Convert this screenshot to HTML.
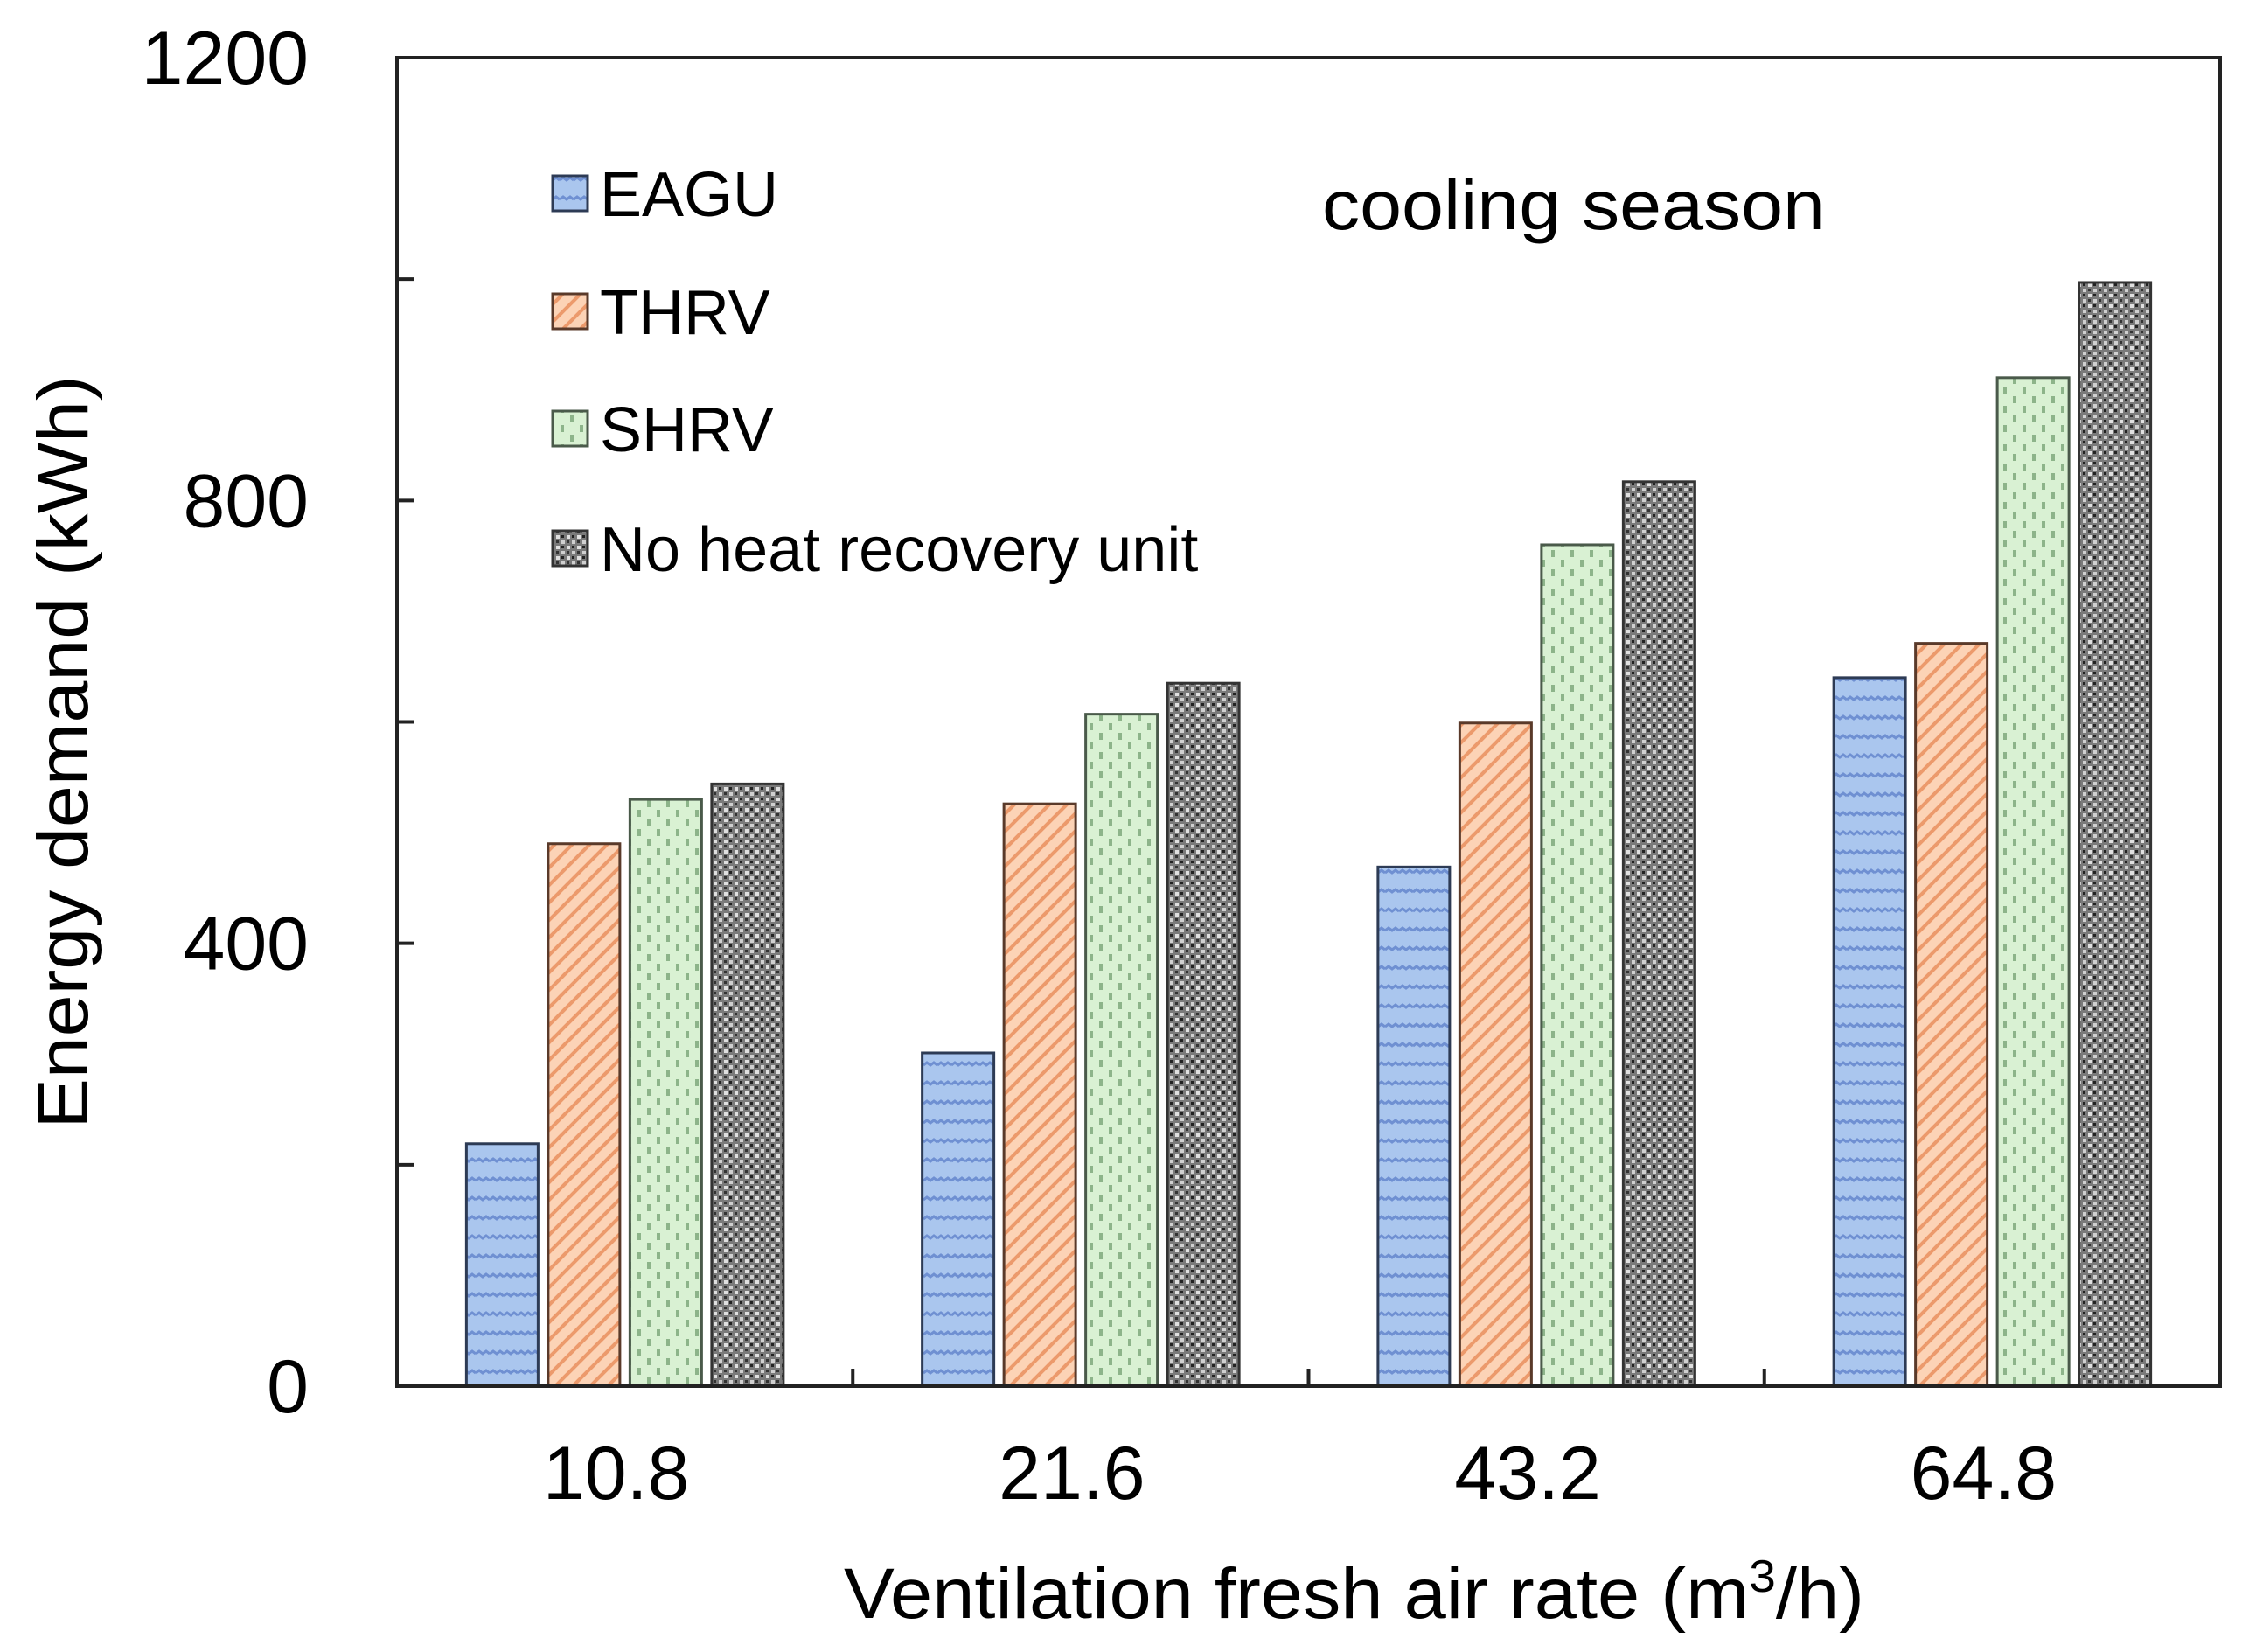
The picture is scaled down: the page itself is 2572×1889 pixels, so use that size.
<!DOCTYPE html>
<html><head><meta charset="utf-8"><style>
html,body{margin:0;padding:0;background:#fff;}
svg{display:block;font-family:"Liberation Sans",Arial,sans-serif;}
</style></head><body>
<svg id="chart" width="2572" height="1889" viewBox="0 0 2572 1889" xmlns="http://www.w3.org/2000/svg">
<defs>
<pattern id="pBlue" patternUnits="userSpaceOnUse" width="16" height="22">
<rect width="16" height="22" fill="#aac6ee"/>
<path d="M0 8 L4 5 L8 8 L12 5 L16 8" stroke="#6f90d2" stroke-width="3" fill="none"/>
</pattern>
<pattern id="pOrange" patternUnits="userSpaceOnUse" width="20" height="20">
<rect width="20" height="20" fill="#fcd3b6"/>
<path d="M-5 25 L25 -5 M-5 5 L5 -5 M15 25 L25 15" stroke="#ec9a6c" stroke-width="4"/>
</pattern>
<pattern id="pGreen" patternUnits="userSpaceOnUse" width="22" height="22">
<rect width="22" height="22" fill="#d9f1d3"/>
<path d="M5 2 L5 10 M16 13 L16 21" stroke="#8db48a" stroke-width="4"/>
</pattern>
<pattern id="pGray" patternUnits="userSpaceOnUse" width="12" height="12">
<rect width="12" height="12" fill="#7a7a7a"/>
<rect x="0" y="0" width="4" height="4" fill="#e0e0e0"/>
<rect x="6" y="6" width="4" height="4" fill="#d0d0d0"/>
<rect x="6" y="0" width="3" height="3" fill="#222"/>
<rect x="0" y="6" width="3" height="3" fill="#333"/>
</pattern>
</defs>
<g id="bars"></g>
<g id="axes"></g>
<g id="legend"></g>
<text x="1512" y="262" font-size="80" textLength="575" lengthAdjust="spacingAndGlyphs">cooling season</text>
<text transform="translate(100,860) rotate(-90)" text-anchor="middle" font-size="82" textLength="861" lengthAdjust="spacingAndGlyphs">Energy demand (kWh)</text>
<text x="965" y="1850" font-size="82" textLength="1167" lengthAdjust="spacingAndGlyphs">Ventilation fresh air rate (m<tspan dy="-30" font-size="52">3</tspan><tspan dy="30">/h)</tspan></text>
</svg>
<script>
const categories = ["10.8", "21.6", "43.2", "64.8"];
const seriesNames = ["EAGU", "THRV", "SHRV", "No heat recovery unit"];
const eaguValues = [219, 301, 469, 640];
const thrvValues = [490, 526, 599, 671];
const shrvValues = [530, 607, 760, 911];
const noHrValues = [544, 635, 817, 997];
const yTicks = [0, 200, 400, 600, 800, 1000, 1200];
const yTickLabels = ["0", "", "400", "", "800", "", "1200"];

const NS = "http://www.w3.org/2000/svg";
const L = 454, R = 2539, T = 66, B = 1585;
const yMax = 1200;
const fills = ["url(#pBlue)", "url(#pOrange)", "url(#pGreen)", "url(#pGray)"];
const strokes = ["#2d3b55", "#5a3a2a", "#4a5a4a", "#333"];
const allSeries = [eaguValues, thrvValues, shrvValues, noHrValues];
function yScale(v){ return B - (v / yMax) * (B - T); }
const groupW = (R - L) / categories.length;
function groupCenter(i){ return L + groupW * (i + 0.5); }
const barW = 82, barStep = 93.5;
function barX(i, s){ return groupCenter(i) + (s - 1.5) * barStep - barW / 2; }
function mk(tag, attrs, parent){ const e = document.createElementNS(NS, tag); for (const k in attrs) e.setAttribute(k, attrs[k]); parent.appendChild(e); return e; }

const gb = document.getElementById('bars');
allSeries.forEach((vals, s) => {
  vals.forEach((v, i) => {
    const r = mk('rect', {x: barX(i, s), y: yScale(v), width: barW, height: B - yScale(v), fill: fills[s], stroke: strokes[s], 'stroke-width': 3}, gb);
    
    
  });
});

const ga = document.getElementById('axes');
const frame = mk('rect', {x: L, y: T, width: R - L, height: B - T, fill: 'none', stroke: '#222', 'stroke-width': 4}, ga);


yTicks.forEach((v, k) => {
  const y = yScale(v);
  const t = mk('line', {x1: L, x2: L + 20, y1: y, y2: y, stroke: '#222', 'stroke-width': 4}, ga);
  
  
  if (yTickLabels[k]) {
    const tx = mk('text', {x: 353, y: y + 30, 'text-anchor': 'end', 'font-size': 86}, ga);
    tx.textContent = yTickLabels[k];
    
    
  }
});
for (let i = 1; i < categories.length; i++) {
  const x = L + groupW * i;
  const t = mk('line', {x1: x, x2: x, y1: B, y2: B - 20, stroke: '#222', 'stroke-width': 4}, ga);
  
  
}
categories.forEach((c, i) => {
  const tx = mk('text', {x: groupCenter(i) - 10, y: 1714, 'text-anchor': 'middle', 'font-size': 86}, ga);
  tx.textContent = c;
  
  
});

const gl = document.getElementById('legend');
const rowY = [221, 356, 490, 627];
seriesNames.forEach((n, s) => {
  const sw = mk('rect', {x: 632, y: rowY[s] - 20, width: 40, height: 40, fill: fills[s], stroke: strokes[s], 'stroke-width': 3}, gl);
  
  
  const tx = mk('text', {x: 686, y: rowY[s] + 26, 'font-size': 72}, gl);
  tx.textContent = n;
  
  
});
</script>
</body></html>
